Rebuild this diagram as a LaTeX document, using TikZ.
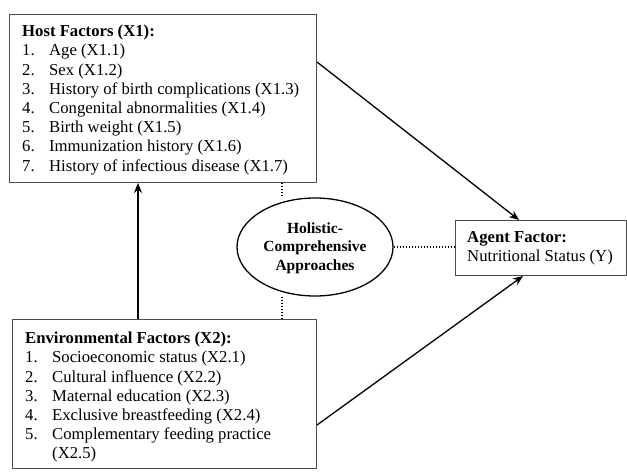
\documentclass[tikz,border=0pt]{standalone}
\usepackage{fontspec}
\setmainfont{Liberation Serif}
\usetikzlibrary{arrows.meta,shapes.geometric,calc}
\tikzset{
  box/.style={draw=black!70, line width=1pt, rectangle, inner sep=0pt},
  txt/.style={anchor=north west, inner sep=0pt, align=left, font=\fontsize{16.7}{19.2}\selectfont},
  arr/.style={line width=1.3pt, -{Stealth[length=10pt,width=8pt]}},
  dot/.style={line width=1.8pt, dash pattern=on 1.5pt off 1.5pt},
}
\newcommand{\itm}[1]{\makebox[27pt][l]{#1}}
\begin{document}
\begin{tikzpicture}[x=1pt,y=-1pt]
\useasboundingbox (0,0) rectangle (627,476);
% boxes
\node[box, minimum width=307pt, minimum height=168pt, anchor=north west] (host) at (9,14) {};
\node[box, minimum width=304pt, minimum height=149pt, anchor=north west] (env) at (12,319) {};
\node[box, minimum width=171pt, minimum height=55pt, anchor=north west] (agent) at (455,220) {};
\node[draw=black, line width=1.3pt, ellipse, minimum width=156pt, minimum height=98pt, inner sep=0pt] (holi) at (315,247) {};
% texts
\node[txt] (hosttext) at (22,25) {\textbf{Host Factors (X1):}\\
\itm{1.}Age (X1.1)\\
\itm{2.}Sex (X1.2)\\
\itm{3.}History of birth complications (X1.3)\\
\itm{4.}Congenital abnormalities (X1.4)\\
\itm{5.}Birth weight (X1.5)\\
\itm{6.}Immunization history (X1.6)\\
\itm{7.}History of infectious disease (X1.7)};
\node[txt] (envtext) at (25,332) {\textbf{Environmental Factors (X2):}\\
\itm{1.}Socioeconomic status (X2.1)\\
\itm{2.}Cultural influence (X2.2)\\
\itm{3.}Maternal education (X2.3)\\
\itm{4.}Exclusive breastfeeding (X2.4)\\
\itm{5.}Complementary feeding practice\\
\itm{}(X2.5)};
\node[txt] (agenttext) at (467,231) {\textbf{Agent Factor:}\\Nutritional Status (Y)};
\node[align=center, inner sep=0pt, font=\bfseries\fontsize{15.5}{18.5}\selectfont] (holitext) at (315,248) {Holistic-\\Comprehensive\\Approaches};
% connectors
\draw[arr] (env.north -| 138,0) -- (host.south -| 138,0);
\draw[arr] ($(host.north east)+(0,48)$) -- ($(agent.north west)+(64,0)$);
\draw[arr] ($(env.north east)+(0,106)$) -- ($(agent.south west)+(68,0)$);
\draw[dot] (host.south -| 282,0) -- (holi.north -| 282,0);
\draw[dot] (holi.south -| 282,0) -- (env.north -| 282,0);
\draw[dot] (holi.east) -- (agent.west |- holi.east);
\end{tikzpicture}
\end{document}
